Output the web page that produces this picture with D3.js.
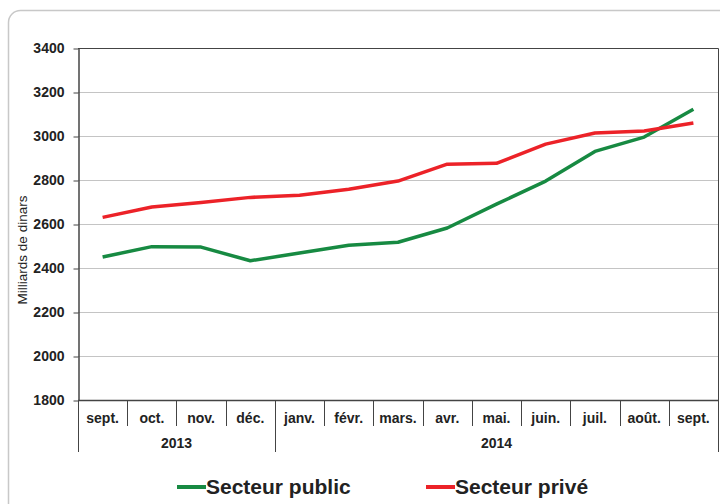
<!DOCTYPE html>
<html>
<head>
<meta charset="utf-8">
<script src="https://cdn.jsdelivr.net/npm/d3@7"></script>
<style>
  body { margin: 0; background: #fff; }
  svg { font-family: "Liberation Sans", Arial, sans-serif; }
</style>
</head>
<body>
<svg id="chart" width="720" height="504"></svg>
<script>
// months and years
var months = ["sept.", "oct.", "nov.", "déc.", "janv.", "févr.", "mars.", "avr.", "mai.", "juin.", "juil.", "août.", "sept."];
var years = [{label: "2013", from: 0, to: 4}, {label: "2014", from: 4, to: 13}];
var yTicks = [1800, 2000, 2200, 2400, 2600, 2800, 3000, 3200, 3400];

var publicVals = [2450, 2497, 2495, 2433, 2468, 2503, 2517, 2582, 2690, 2795, 2930, 2995, 3122];
var priveVals = [2630, 2677, 2698, 2721, 2731, 2758, 2795, 2872, 2876, 2963, 3014, 3023, 3059];

var svg = d3.select("#chart");

// plot box (note: "top" is taken by window.top)
var pLeft = 78, pRight = 718, pTop = 48, pBottom = 400;

// panel
svg.append("rect")
    .attr("x", 8.5).attr("y", 10.5)
    .attr("width", 760).attr("height", 540)
    .attr("rx", 12)
    .attr("fill", "none")
    .attr("stroke", "#c8c8c8")
    .attr("stroke-width", 1.5);

var x = d3.scaleBand().domain(d3.range(months.length)).range([pLeft, pRight]);
var y = d3.scaleLinear().domain([1800, 3400]).range([pBottom, pTop]);

// grid
svg.append("g")
    .selectAll("line")
    .data(yTicks.slice(1, -1))
    .enter()
    .append("line")
    .attr("x1", pLeft).attr("x2", pRight)
    .attr("y1", function (d) { return y(d) + 0.5; })
    .attr("y2", function (d) { return y(d) + 0.5; })
    .attr("stroke", "#c4c4c4");

// top + right border
svg.append("path")
    .attr("d", "M" + pLeft + "," + (pTop + 0.5) + "H" + (pRight + 0.5) + "V" + pBottom)
    .attr("fill", "none")
    .attr("stroke", "#444");

// y axis
var yAxis = d3.axisLeft(y).tickValues(yTicks).tickSize(5).tickPadding(9).tickSizeOuter(0).tickFormat(d3.format("d"));
var gy = svg.append("g").attr("transform", "translate(" + (pLeft + 0.5) + ",0.5)").call(yAxis);
gy.select(".domain").attr("stroke", "#444").attr("stroke-width", 1.5);
gy.selectAll(".tick line").attr("stroke", "#444");
gy.selectAll("text")
    .attr("font-size", 14)
    .attr("font-weight", "bold")
    .attr("fill", "#222")
    .attr("font-family", "Liberation Sans, Arial, sans-serif");

// x axis baseline
svg.append("line")
    .attr("x1", pLeft).attr("x2", pRight + 1)
    .attr("y1", pBottom + 0.5).attr("y2", pBottom + 0.5)
    .attr("stroke", "#444").attr("stroke-width", 1.5);

// month separators
svg.append("g")
    .selectAll("line")
    .data(d3.range(months.length + 1))
    .enter()
    .append("line")
    .attr("x1", function (i) { return Math.round(pLeft + i * x.step()) + 0.5; })
    .attr("x2", function (i) { return Math.round(pLeft + i * x.step()) + 0.5; })
    .attr("y1", pBottom)
    .attr("y2", function (i) {
        return (i == 0 || i == 4 || i == months.length) ? 452 : 426;
    })
    .attr("stroke", "#444");

svg.append("g")
    .selectAll("text")
    .data(months)
    .enter()
    .append("text")
    .attr("x", function (d, i) { return x(i) + x.bandwidth() / 2; })
    .attr("y", 423)
    .attr("text-anchor", "middle")
    .attr("font-size", 14)
    .attr("font-weight", "bold")
    .attr("fill", "#222")
    .text(function (d) { return d; });

svg.append("g")
    .selectAll("text")
    .data(years)
    .enter()
    .append("text")
    .attr("x", function (d) { return pLeft + (d.from + d.to) / 2 * x.step(); })
    .attr("y", 448)
    .attr("text-anchor", "middle")
    .attr("font-size", 14)
    .attr("font-weight", "bold")
    .attr("fill", "#222")
    .text(function (d) { return d.label; });

// y label
svg.append("text")
    .attr("transform", "translate(27,250) rotate(-90)")
    .attr("text-anchor", "middle")
    .attr("font-size", 13.5)
    .attr("fill", "#222")
    .text("Milliards de dinars");

// lines
var line = d3.line()
    .x(function (d, i) { return x(i) + x.bandwidth() / 2; })
    .y(function (d) { return y(d); });

var series = [
    {name: "Secteur public", values: publicVals, color: "#178a42", lx: 177},
    {name: "Secteur privé", values: priveVals, color: "#ec2228", lx: 426}
];

svg.append("g")
    .selectAll("path")
    .data(series)
    .enter()
    .append("path")
    .attr("d", function (d) { return line(d.values); })
    .attr("fill", "none")
    .attr("stroke", function (d) { return d.color; })
    .attr("stroke-width", 3.5)
    .attr("stroke-linejoin", "round");

// legend
var leg = svg.append("g")
    .selectAll("g")
    .data(series)
    .enter()
    .append("g")
    .attr("transform", function (d) { return "translate(" + d.lx + ",487)"; });

leg.append("line")
    .attr("x1", 0).attr("x2", 29)
    .attr("stroke", function (d) { return d.color; })
    .attr("stroke-width", 4);

leg.append("text")
    .attr("x", 29)
    .attr("y", 7)
    .attr("font-size", 21)
    .attr("font-weight", "bold")
    .attr("fill", "#222")
    .text(function (d) { return d.name; });
</script>
</body>
</html>
